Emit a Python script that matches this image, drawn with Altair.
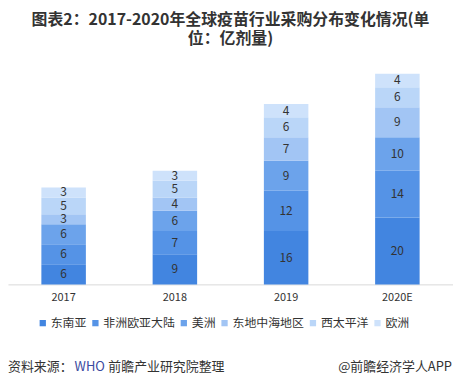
import altair as alt
import pandas as pd

years = ["2017", "2018", "2019", "2020E"]
regions = ["东南亚", "非洲欧亚大陆", "美洲", "东地中海地区", "西太平洋", "欧洲"]
v_sea = [6, 9, 16, 20]
v_afr = [6, 7, 12, 14]
v_ame = [6, 6, 9, 10]
v_emr = [3, 4, 7, 9]
v_wpr = [5, 5, 6, 6]
v_eur = [3, 3, 4, 4]
series = [v_sea, v_afr, v_ame, v_emr, v_wpr, v_eur]
colors = ["#4285e0", "#5593e6", "#6ca3eb", "#a2c5f4", "#bad6f8", "#cee2fb"]

title_lines = ["图表2：2017-2020年全球疫苗行业采购分布变化情况(单", "位：亿剂量)"]
FONT = "Noto Sans CJK SC"

rows = []
for i, (r, vals) in enumerate(zip(regions, series)):
    for y, v in zip(years, vals):
        rows.append({"year": y, "region": r, "v": v, "order": i})
df = pd.DataFrame(rows)

base = alt.Chart(df).transform_stack(
    stack="v", groupby=["year"], as_=["y0", "y1"], sort=[alt.SortField("order")]
).transform_calculate(mid="(datum.y0 + datum.y1) / 2")

x = alt.X(
    "year:N", sort=years,
    scale=alt.Scale(paddingInner=0.6, paddingOuter=0.3),
    axis=alt.Axis(title=None, labelAngle=0, ticks=False, domainColor="#d9d9d9",
                  labelColor="#333333", labelFontSize=11, labelPadding=7, labelFont=FONT),
)
ys = alt.Scale(domain=[0, 63], nice=False, zero=True)

bars = base.mark_bar().encode(
    x=x,
    y=alt.Y("y0:Q", scale=ys, axis=None),
    y2="y1:Q",
    color=alt.Color(
        "region:N", sort=regions,
        scale=alt.Scale(domain=regions, range=colors),
        legend=alt.Legend(
            title=None, orient="none", direction="horizontal", legendX=29, legendY=245,
            symbolType="square", symbolSize=40, symbolStrokeWidth=0, labelOffset=2,
            columnPadding=2, labelFontSize=12, labelColor="#333333", labelFont=FONT,
            padding=0,
        ),
    ),
)
labels = base.mark_text(fontSize=12, color="#333333", font=FONT).encode(
    x=x, y=alt.Y("mid:Q", scale=ys), text="v:Q"
)

foot_df = pd.DataFrame({"t": ["资料来源：", "WHO", "前瞻产业研究院整理", "@前瞻经济学人APP"]})
foot_a = alt.Chart(foot_df).transform_filter("datum.t == '资料来源：'").mark_text(
    align="left", fontSize=13, font=FONT, color="#333333").encode(
    x=alt.value(0), y=alt.value(295), text="t:N")
foot_b = alt.Chart(foot_df).transform_filter("datum.t == 'WHO'").mark_text(
    align="left", fontSize=13, font=FONT, color="#3a4aa0").encode(
    x=alt.value(67), y=alt.value(295), text="t:N")
foot_c = alt.Chart(foot_df).transform_filter("datum.t == '前瞻产业研究院整理'").mark_text(
    align="left", fontSize=13, font=FONT, color="#333333").encode(
    x=alt.value(101), y=alt.value(295), text="t:N")
foot_d = alt.Chart(foot_df).transform_filter("datum.t == '@前瞻经济学人APP'").mark_text(
    align="right", fontSize=13, font=FONT, color="#333333").encode(
    x=alt.value(447), y=alt.value(295), text="t:N")

chart = alt.layer(bars, labels, foot_a, foot_b, foot_c, foot_d).properties(
    width=448, height=212,
    autosize=alt.AutoSizeParams(type="none"),
    padding={"left": 0, "top": 65, "right": 0, "bottom": 95},
    title=alt.TitleParams(text=title_lines, fontSize=16, fontWeight="bold", color="#333333",
                          anchor="middle", offset=27, lineHeight=19, font=FONT),
    background="white",
).configure_view(stroke=None)

chart.save("out.html", embed_options={"renderer": "svg", "actions": False})
